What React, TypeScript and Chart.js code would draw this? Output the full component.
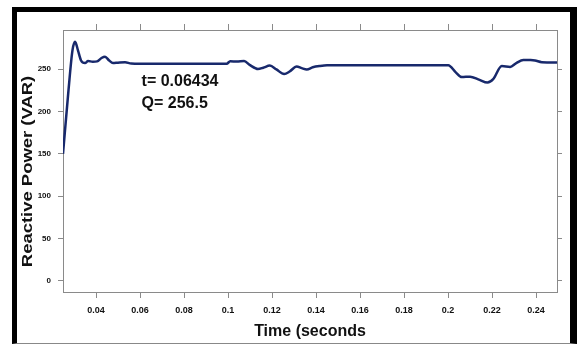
import React, { useEffect, useRef } from "react";
import { Chart, registerables } from "chart.js";

Chart.register(...registerables);

// ---- data ----
const timeS: number[] = [
  0.025, 0.0275, 0.0293, 0.0305, 0.0318, 0.0332, 0.035, 0.0364, 0.0385, 0.0405,
  0.0425, 0.0441, 0.046, 0.0477, 0.05, 0.0532, 0.056, 0.06, 0.07, 0.08, 0.09,
  0.0994, 0.101, 0.104, 0.1073, 0.11, 0.1136, 0.116, 0.119, 0.122, 0.1255,
  0.128, 0.1312, 0.1335, 0.1358, 0.1385, 0.1418, 0.145, 0.16, 0.18, 0.2001,
  0.2035, 0.2062, 0.21, 0.214, 0.2179, 0.2205, 0.2244, 0.2282, 0.231, 0.2342,
  0.2375, 0.2395, 0.2426, 0.2495,
];
const reactivePower: number[] = [
  150, 225, 272, 282, 272, 260, 257, 259.5, 258.5, 259,
  263, 264.5, 260, 257, 257.5, 258, 256.5, 256.3, 256.3, 256.3, 256.3,
  256.3, 259, 258.8, 259.3, 254.5, 250, 251.5, 254, 249.5, 244,
  247, 253, 251, 249.5, 252, 253.5, 254.3, 254.5, 254.5, 254.5,
  246, 240.5, 241, 237.5, 234, 238, 253.5, 252.5, 257, 260.6,
  260.5, 260, 258, 257.7,
];
const xTicks: number[] = [0.04, 0.06, 0.08, 0.1, 0.12, 0.14, 0.16, 0.18, 0.2, 0.22, 0.24];
const yTicks: number[] = [0, 50, 100, 150, 200, 250];
const xRange: number[] = [0.025, 0.2495];
const yRange: number[] = [-13, 296];
const markerT = 0.06434;
const markerQ = 256.5;
const xTitle = "Time (seconds";
const yTitle = "Reactive Power (VAR)";

const FONT = "'Liberation Sans', Arial, sans-serif";
const AXIS_GRAY = "#8a8a8a";

const yTitlePlugin = {
  id: "yTitlePlugin",
  afterDraw(chart: any) {
    const ctx = chart.ctx;
    const area = chart.chartArea;
    ctx.save();
    ctx.translate(28, (area.top + area.bottom) / 2 + 10.5);
    ctx.rotate(-Math.PI / 2);
    ctx.scale(1.23, 1);
    ctx.font = `bold 15px ${FONT}`;
    ctx.fillStyle = "#111";
    ctx.textAlign = "center";
    ctx.textBaseline = "middle";
    ctx.fillText(yTitle, 0, 0);
    ctx.restore();
  },
};

const markerPlugin = {
  id: "markerPlugin",
  afterDraw(chart: any) {
    const ctx = chart.ctx;
    const xs = chart.scales.x;
    const ys = chart.scales.y;
    const px = xs.getPixelForValue(markerT);
    const py = ys.getPixelForValue(markerQ);
    ctx.save();
    ctx.font = `bold 16px ${FONT}`;
    ctx.fillStyle = "#111";
    ctx.textAlign = "left";
    ctx.textBaseline = "alphabetic";
    ctx.fillText(`t= ${markerT}`, px - 8, py + 22.5);
    ctx.fillText(`Q= ${markerQ}`, px - 8, py + 44.5);
    ctx.restore();
  },
};

function fmt(v: number): string {
  return String(Number(v.toFixed(3)));
}

export default function App() {
  const canvasRef = useRef<HTMLCanvasElement | null>(null);

  useEffect(() => {
    if (!canvasRef.current) return;
    const points = timeS.map((t, i) => ({ x: t, y: reactivePower[i] }));
    const setX = (scale: any) => {
      scale.ticks = xTicks.map((v) => ({ value: v }));
    };
    const setY = (scale: any) => {
      scale.ticks = yTicks.map((v) => ({ value: v }));
    };
    const chart = new Chart(canvasRef.current, {
      type: "line",
      data: {
        datasets: [
          {
            data: points,
            borderColor: "#18296c",
            borderWidth: 2.5,
            pointRadius: 0,
            cubicInterpolationMode: "monotone",
            fill: false,
          },
        ],
      },
      options: {
        animation: false,
        responsive: false,
        devicePixelRatio: 1,
        layout: { padding: 0 },
        plugins: {
          legend: { display: false },
          tooltip: { enabled: false },
          title: { display: false },
        },
        scales: {
          x: {
            type: "linear",
            position: "bottom",
            min: xRange[0],
            max: xRange[1],
            afterBuildTicks: setX,
            afterFit: (s: any) => {
              s.height = 53;
            },
            grid: {
              drawOnChartArea: false,
              drawTicks: true,
              tickLength: 6,
              color: AXIS_GRAY,
            },
            border: { display: true, color: AXIS_GRAY, width: 1 },
            ticks: {
              padding: 7,
              color: "#111",
              font: { family: FONT, size: 9, weight: "bold" },
              maxRotation: 0,
              autoSkip: false,
              callback: (v: any) => fmt(Number(v)),
            },
            title: {
              display: true,
              text: xTitle,
              color: "#111",
              font: { family: FONT, size: 16, weight: "bold" },
              padding: { top: 0, bottom: 4 },
            },
          },
          x2: {
            type: "linear",
            position: "top",
            min: xRange[0],
            max: xRange[1],
            afterBuildTicks: setX,
            afterFit: (s: any) => {
              s.height = 30;
            },
            grid: {
              drawOnChartArea: false,
              drawTicks: true,
              tickLength: 6,
              color: AXIS_GRAY,
            },
            border: { display: true, color: AXIS_GRAY, width: 1 },
            ticks: { display: false },
          },
          y: {
            type: "linear",
            position: "left",
            min: yRange[0],
            max: yRange[1],
            afterBuildTicks: setY,
            afterFit: (s: any) => {
              s.width = 63;
            },
            grid: {
              drawOnChartArea: false,
              drawTicks: true,
              tickLength: 5,
              color: AXIS_GRAY,
            },
            border: { display: true, color: AXIS_GRAY, width: 1 },
            ticks: {
              padding: 7,
              color: "#111",
              font: { family: FONT, size: 8, weight: "bold" },
              callback: (v: any) => String(v),
            },
          },
          y2: {
            type: "linear",
            position: "right",
            min: yRange[0],
            max: yRange[1],
            afterBuildTicks: setY,
            afterFit: (s: any) => {
              s.width = 20;
            },
            grid: {
              drawOnChartArea: false,
              drawTicks: true,
              tickLength: 5,
              color: AXIS_GRAY,
            },
            border: { display: true, color: AXIS_GRAY, width: 1 },
            ticks: { display: false },
          },
        },
      } as any,
      plugins: [yTitlePlugin, markerPlugin],
    });
    return () => chart.destroy();
  }, []);

  return (
    <div
      style={{
        position: "fixed",
        left: 0,
        top: 0,
        width: 577,
        height: 345,
        background: "#fff",
        overflow: "hidden",
      }}
    >
      <canvas
        ref={canvasRef}
        width={577}
        height={345}
        style={{ position: "absolute", left: 0, top: 0, width: 577, height: 345 }}
      />
      <div
        style={{
          position: "absolute",
          left: 12,
          top: 7,
          width: 565,
          height: 337,
          boxSizing: "border-box",
          borderLeft: "5px solid #000",
          borderTop: "5px solid #000",
          borderRight: "7px solid #000",
          borderBottom: "1px solid #888",
          pointerEvents: "none",
        }}
      />
    </div>
  );
}
